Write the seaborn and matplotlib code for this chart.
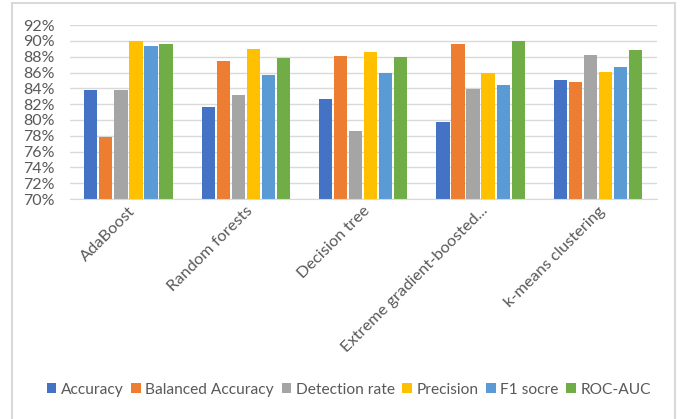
import numpy as np
import pandas as pd
import matplotlib
matplotlib.use("Agg")
import matplotlib.pyplot as plt
import seaborn as sns
from matplotlib.ticker import PercentFormatter, MultipleLocator
from matplotlib.patches import Rectangle

models = ["AdaBoost", "Random forests", "Decision tree",
          "Extreme gradient-boosted...", "k-means clustering"]
metrics = ["Accuracy", "Balanced Accuracy", "Detection rate",
           "Precision", "F1 socre", "ROC-AUC"]

accuracy = [83.8, 81.6, 82.7, 79.8, 85.1]
balanced_accuracy = [77.9, 87.4, 88.1, 89.6, 84.8]
detection_rate = [83.8, 83.1, 78.6, 83.9, 88.2]
precision = [90.0, 89.0, 88.6, 86.0, 86.1]
f1_score = [89.3, 85.7, 86.0, 84.4, 86.7]
roc_auc = [89.6, 87.9, 88.0, 90.0, 88.9]

colors = ["#4472C4", "#ED7D31", "#A5A5A5", "#FFC000", "#5B9BD5", "#70AD47"]

series = [accuracy, balanced_accuracy, detection_rate, precision, f1_score, roc_auc]
rows = []
for name, vals in zip(metrics, series):
    for m, v in zip(models, vals):
        rows.append({"model": m, "metric": name, "value": v / 100})
df = pd.DataFrame(rows)

sns.set_style("white")
plt.rcParams['font.family'] = ['Lato', 'DejaVu Sans']

fig = plt.figure(figsize=(6.84, 4.19), dpi=100)
ax = fig.add_axes([0.102, 0.525, 0.858, 0.415])

sns.barplot(data=df, x="model", y="value", hue="metric", hue_order=metrics,
            order=models, palette=colors, width=0.77, gap=0.12,
            saturation=1, linewidth=0, ax=ax, legend=True)

ax.set_ylim(0.70, 0.92)
ax.yaxis.set_major_locator(MultipleLocator(0.02))
ax.yaxis.set_major_formatter(PercentFormatter(1.0, decimals=0))
ax.yaxis.grid(True, color="#D9D9D9", linewidth=1)
ax.set_axisbelow(True)
for s in ["top", "right", "left"]:
    ax.spines[s].set_visible(False)
ax.spines["bottom"].set_color("#D9D9D9")
ax.tick_params(axis="both", length=0, colors="#595959")
ax.tick_params(axis="y", labelsize=11.5, pad=11)
ax.set_xlabel("")
ax.set_ylabel("")
plt.setp(ax.get_xticklabels(), rotation=45, ha="right",
         rotation_mode="anchor", fontsize=11.8)

handles, labels = ax.get_legend_handles_labels()
ax.legend_.remove()
fig.legend(handles, labels, loc="center", bbox_to_anchor=(0.51, 0.07),
           ncol=6, frameon=False, handlelength=0.6, handleheight=0.6,
           handletextpad=0.3, columnspacing=0.5, fontsize=11.2,
           labelcolor="#595959")

fig.patches.append(Rectangle((12 / 684, -0.05), 663 / 684, 1.05 - 3 / 419,
                             transform=fig.transFigure, fill=False,
                             edgecolor="#D9D9D9", linewidth=1.5))

fig.savefig("out.png", dpi=100)
